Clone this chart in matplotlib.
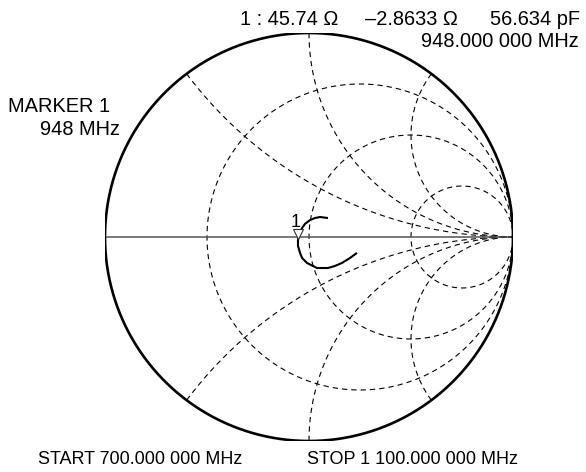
import numpy as np
import matplotlib
matplotlib.use('Agg')
import matplotlib.pyplot as plt
from matplotlib.transforms import offset_copy

# Smith chart graticule (normalised to 50 ohm)
r_circles = [1 / 3, 1, 3]
x_arcs = [0.5, 1, 2, -0.5, -1, -2]

trace_re = [0.235, 0.201, 0.162, 0.127, 0.093, 0.039, -0.010, -0.034, -0.044,
            -0.054, -0.054, -0.049, -0.034, -0.020, 0.005, 0.029, 0.054, 0.093]
trace_im = [-0.078, -0.103, -0.127, -0.142, -0.152, -0.152, -0.127, -0.103, -0.078,
            -0.044, -0.015, 0.015, 0.044, 0.064, 0.083, 0.093, 0.098, 0.093]

# marker 1
marker_re, marker_im = -0.054, -0.005
marker_r, marker_x, marker_c = 45.74, -2.8633, 56.634
marker_freq = 948
start_freq, stop_freq = 700, 1100

W, H = 586, 472


def gamma(z):
    return (z - 1) / (z + 1)


def fmt_mhz(f):
    whole = f"{int(f):,}".replace(',', ' ')
    return f"{whole}.000 000 MHz"


def ftext(x, y, s, ha='left', size=14.4):
    # place text by pixel position (x, baseline y) of the output image
    fig.text(x / W, 1 - y / H, s, ha=ha, va='baseline',
             family='Liberation Sans', fontsize=size)


fig = plt.figure(figsize=(W / 100, H / 100), dpi=100)
ax = fig.add_axes([105 / W, 31 / H, 408 / W, 408 / H])
ax.set_xlim(-1, 1)
ax.set_ylim(-1, 1)
ax.axis('off')

grid_style = dict(color='black', lw=0.8, ls=(0, (4.8, 3.6)))

# constant resistance circles
t = np.linspace(-np.pi / 2, np.pi / 2, 1201)[1:-1]
for r in r_circles:
    g = gamma(r + 1j * np.tan(t))
    ax.plot(g.real, g.imag, **grid_style)

# constant reactance arcs
s = np.linspace(0, np.pi / 2, 801)[:-1]
for x in x_arcs:
    g = gamma(np.tan(s) + 1j * x)
    ax.plot(g.real, g.imag, **grid_style)

# real axis and outer circle
ax.plot([-1, 1], [0, 0], color='#555555', lw=1.1)
th = np.linspace(0, 2 * np.pi, 721)
ax.plot(np.cos(th), np.sin(th), color='black', lw=1.9)

# trace
ax.plot(trace_re, trace_im, color='black', lw=1.5, solid_capstyle='butt')

# marker triangle and label
tri = offset_copy(ax.transData, fig=fig, x=0, y=4, units='dots')
ax.plot(marker_re, marker_im, marker='v', ms=7, mfc='white', mec='#333333',
        mew=0.8, transform=tri)
ax.annotate('1', (marker_re, marker_im), xytext=(-2, 11), textcoords='offset pixels',
            ha='center', va='baseline', family='Liberation Sans', fontsize=13)

# annotations
ftext(240, 25, f"1 : {marker_r:.2f} \u03a9")
ftext(365, 25, f"\u2013{abs(marker_x):.4f} \u03a9")
ftext(580, 25, f"{marker_c:.3f} pF", ha='right')
ftext(579, 47, fmt_mhz(marker_freq), ha='right')
ftext(8, 112, "MARKER 1")
ftext(120, 135, f"{marker_freq} MHz", ha='right')
ftext(38, 464, "START " + fmt_mhz(start_freq), size=13)
ftext(518, 464, "STOP " + fmt_mhz(stop_freq), ha='right', size=13)

fig.savefig('out.png', dpi=100)
